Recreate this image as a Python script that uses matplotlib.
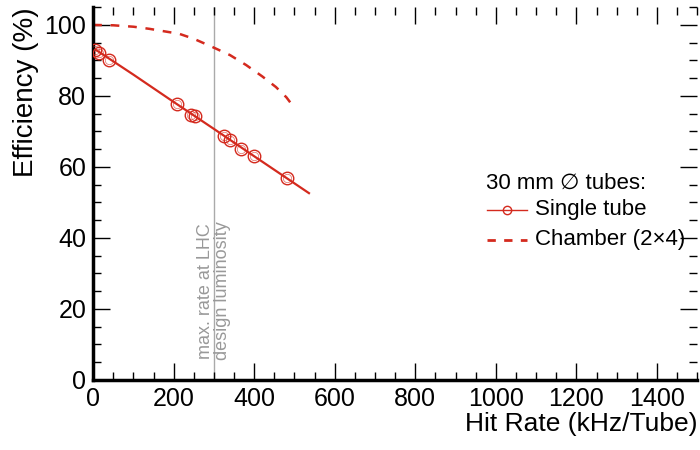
import matplotlib
matplotlib.use("Agg")
import matplotlib.pyplot as plt
from matplotlib.ticker import MultipleLocator

plt.rcParams['font.family'] = ['Liberation Sans', 'DejaVu Sans']

# single tube measurements
rate = [5, 15, 40, 208, 242, 252, 326, 341, 368, 400, 481]
eff = [93.0, 92.2, 90.0, 77.7, 74.6, 74.4, 68.7, 67.6, 65.1, 63.1, 57.0]

# fit through single tube points
fit_rate = [0, 100, 200, 300, 400, 536]
fit_eff = [93.5, 86.0, 78.3, 70.7, 63.0, 52.6]

# chamber (2x4) efficiency
ch_rate = [0, 50, 100, 140, 214, 250, 296, 340, 380, 420, 454, 480, 500]
ch_eff = [100.0, 99.9, 99.5, 98.9, 97.5, 96.1, 93.8, 91.5, 88.7, 85.5, 82.5, 79.6, 76.6]

lhc_rate = 300
red = '#d42a1e'

fig = plt.figure(figsize=(7, 4.5), dpi=100)
ax = fig.add_axes([0.133, 0.156, 0.863, 0.828])

ax.axvline(lhc_rate, color='#aaaaaa', lw=1.0, zorder=1)
ax.text(lhc_rate, 5.5, 'max. rate at LHC\ndesign luminosity', rotation=90,
        ha='center', va='bottom', color='#999999', fontsize=13, linespacing=0.95)

ax.plot(fit_rate, fit_eff, color=red, lw=1.6, zorder=2)
ax.plot(rate, eff, ls='none', marker='o', ms=9, mfc='none', mec=red, mew=1.0, zorder=3)
ax.plot(rate, eff, ls='none', marker='o', ms=6, mfc='none', mec=red, mew=0.6, alpha=0.6, zorder=3)
ax.plot(ch_rate, ch_eff, color=red, lw=1.8, ls=(0, (3.5, 3.5)), zorder=2)

ax.set_xlim(0, 1500)
ax.set_ylim(0, 105)
ax.xaxis.set_major_locator(MultipleLocator(200))
ax.xaxis.set_minor_locator(MultipleLocator(50))
ax.yaxis.set_major_locator(MultipleLocator(20))
ax.yaxis.set_minor_locator(MultipleLocator(5))
ax.tick_params(which='both', direction='in', top=True, right=True, width=1.0,
               labelsize=18, pad=5)
ax.tick_params(which='major', length=12)
ax.tick_params(which='minor', length=6)
ax.spines['bottom'].set_linewidth(2.5)
ax.spines['left'].set_linewidth(2.5)
ax.spines['top'].set_visible(False)
ax.spines['right'].set_visible(False)

ax.set_xlabel('Hit Rate (kHz/Tube)', fontsize=19, loc='right', labelpad=1)
ax.set_ylabel('Efficiency (%)', fontsize=20, loc='top', labelpad=4)

# legend
ax.text(976, 55.5, '30 mm \u2205 tubes:', fontsize=16, ha='left', va='center',
        family=['Liberation Sans', 'DejaVu Sans'])
ax.plot([978, 1077], [47.9, 47.9], color=red, lw=1.0)
ax.plot([1027], [47.9], marker='o', ms=6, mfc='none', mec=red, mew=1.0)
ax.text(1098, 47.9, 'Single tube', fontsize=16, va='center')
ax.plot([978, 1077], [39.4, 39.4], color=red, lw=2.0, ls=(0, (3, 3)))
ax.text(1098, 39.4, 'Chamber (2\u00d74)', fontsize=16, va='center')

fig.savefig('out.png', dpi=100)
